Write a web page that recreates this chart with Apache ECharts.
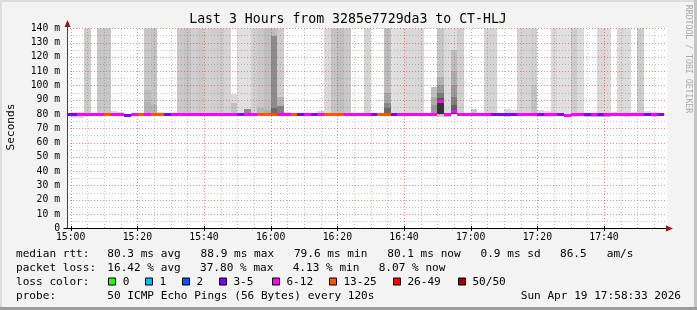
<!DOCTYPE html>
<html><head><meta charset="utf-8">
<script src="https://cdn.jsdelivr.net/npm/echarts@6/dist/echarts.min.js"></script>
<style>html,body{margin:0;padding:0;background:#f3f3f3}#c{width:697px;height:310px}</style>
</head><body><div id="c"></div>
<script>
// ---- data (minutes after 15:00 on x; milliseconds on y) ----
const xLabelValues = [0, 20, 40, 60, 80, 100, 120, 140, 160];
const xLabelTexts = ['15:00','15:20','15:40','16:00','16:20','16:40','17:00','17:20','17:40'];
const xMinorTicks = [5,10,15,25,30,35,45,50,55,65,70,75,85,90,95,105,110,115,125,130,135,145,150,155,165,170,175];
const yMajorTicks = [10,20,30,40,50,60,70,80,90,100,110,120,130,140];
const yMinorTicks = [5,15,25,35,45,55,65,75,85,95,105,115,125,135];

// one entry per 2-minute step, first entry = 14:58 step (partly visible)
const medianMs = [
  80.1,
  80.1,80.2,80.1,80.1,80.2,80.1,80.1,80.2,
  79.6,
  80.1,80.2,80.1,80.1,80.2,80.1,80.1,80.1,80.2,80.1,
  80.1,80.2,80.1,80.1,80.1,80.2,80.1,80.1,80.2,80.1,
  80.1,80.2,80.1,80.1,80.1,80.2,80.1,80.1,80.2,80.1,
  80.1,80.1,80.2,80.1,80.1,80.2,80.1,80.1,80.1,80.2,
  80.1,80.1,80.2,80.1,80.1,80.2,
  88.9,79.7,81.8,
  80.1,80.2,80.1,80.1,80.1,80.2,80.1,80.1,80.2,80.1,
  80.1,80.1,80.2,80.1,80.1,80.2,
  79.6,
  80.1,80.2,80.1,80.1,80.1,80.2,80.1,80.1,80.2,80.1,
  80.1,80.1,80.2,80.1
];
const lossPct = [
  8.1,
  8.0,16.2,15.8,16.4,16.0,30.2,16.1,15.9,8.2,16.3,29.8,16.0,30.4,30.1,8.0,16.2,
  16.1,15.8,16.4,16.0,16.2,15.9,16.1,16.3,16.0,8.1,16.2,16.0,30.0,30.3,37.8,16.1,
  16.0,30.2,8.0,16.3,8.2,16.1,30.0,29.9,30.2,16.0,16.1,15.9,16.2,8.1,30.1,30.2,8.0,
  16.1,16.0,16.3,15.9,16.2,16.0,16.4,16.1,16.2,
  16.0,16.1,15.9,16.2,16.0,8.1,8.0,8.2,8.1,16.0,16.2,16.1,8.0,16.1,16.0,8.2,16.1,
  16.0,16.2,8.1,16.0,8.2,16.1,16.0,16.2,15.9,16.1,16.0,8.1,16.2,8.07
];
// smoke bands: [step (0 = 15:00-15:02), low ms, high ms, density %]
const smokeBands = [
  [0,77.3,80.1,15],[0,80.1,81.5,12],
  [1,77.3,80.1,15],[1,80.1,81.5,12],
  [2,80.1,200,20],
  [4,80.1,200,22],[5,80.1,200,22],
  [6,80.1,82.2,14],[7,80.1,81.5,12],
  [11,80.1,200,22],[11,80.1,96.8,26],[11,80.1,88.6,30],
  [12,80.1,200,23],[12,80.1,86,29],
  [13,80.1,81.5,12],
  [16,80.1,200,21],[17,80.1,200,23],[18,80.1,200,19],[19,80.1,200,21],
  [20,80.1,200,18],[21,80.1,200,19],[22,80.1,200,20],[23,80.1,200,17],
  [24,80.1,94,15],[24,80.1,87.6,24],
  [25,80.1,200,12],
  [26,80.1,200,12],[26,80.1,83.8,45],
  [27,80.1,200,18],
  [28,80.1,200,21],[28,80.1,84,29],
  [29,80.1,200,25],[29,80.1,83,31],
  [30,80.1,200,26],[30,80.1,134.8,45],[30,80.1,84,58],
  [31,80.1,200,20],[31,80.1,92,30],[31,80.1,85.5,50],
  [32,80.1,81.4,14],
  [37,80.1,82.3,18],
  [38,80.1,200,15],[39,80.1,200,23],[40,80.1,200,25],[41,80.1,200,21],
  [44,80.1,200,17],
  [47,80.1,200,26],[47,80.1,94.5,34],[47,80.1,88,46],[47,80.1,84,58],
  [48,80.1,200,12],[49,80.1,200,13],[50,80.1,200,15],[51,80.1,200,15],[52,80.1,200,16],
  [54,80.1,99,25],[54,80.1,92,32],[54,80.1,86,40],
  [55,77.7,80.1,20],[55,80.1,200,22],[55,80.1,105.6,30],[55,80.1,100,40],[55,80.1,95,52],[55,80.1,91,66],[55,80.1,88.9,80],
  [56,79.7,200,14],[56,77.6,79.7,25],
  [57,80.1,200,13],[57,80.1,125,26],[57,80.1,110,32],[57,80.1,100,40],[57,80.1,92,50],[57,80.1,86,62],[57,80.1,83,75],
  [58,80.1,200,19],
  [60,80.1,83.3,22],
  [62,80.1,200,17],[63,80.1,200,17],
  [64,80.1,81,14],
  [65,80.1,83.2,15],[65,77.6,80.1,18],
  [66,80.1,83,14],
  [67,80.1,200,17],[68,80.1,200,17],[69,80.1,200,19],[69,80.1,100,24],
  [70,80.1,82.5,14],[70,77.6,80.1,16],
  [71,80.1,82,12],[71,77.6,80.1,16],
  [72,80.1,200,15],[73,80.1,200,12],
  [74,79.6,200,12],[74,77.6,79.6,18],
  [75,80.1,200,20],[75,78,80.1,18],
  [76,80.1,200,14],
  [77,77.6,80.1,22],[78,77.6,80.1,30],
  [79,80.1,200,15],[79,77.6,80.1,28],
  [80,80.1,200,14],[80,77.6,80.1,30],
  [81,80.1,81.5,12],
  [82,80.1,200,15],[83,80.1,200,14],[83,77.6,80.1,20],
  [84,80.1,81.5,12],
  [85,80.1,200,20],
  [86,80.1,82,12],
  [87,80.1,81.5,12],[87,78,80.1,18]
];
const lossLabels = ['0','1','2','3-5','6-12','13-25','26-49','50/50'];
const lossColors = ['#26ff00','#00b8ff','#0059ff','#7e00ff','#ff00ff','#ff5500','#ff0000','#a10000'];
const statsRtt = ['80.3 ms avg','88.9 ms max','79.6 ms min','80.1 ms now','0.9 ms sd','86.5   am/s'];
const statsLoss = ['16.42 % avg','37.80 % max','4.13 % min','8.07 % now'];

// ---- helpers ----
const FONT = '"DejaVu Sans Mono", monospace';
function lossColor(p){
  const lost = Math.round(p * 50 / 100);
  const idx = lost <= 0 ? 0 : lost <= 1 ? 1 : lost <= 2 ? 2 : lost <= 5 ? 3 : lost <= 12 ? 4 : lost <= 25 ? 5 : lost < 50 ? 6 : 7;
  return lossColors[idx];
}
function cs(params){ const c = params.coordSys; return {x:c.x, y:c.y, width:c.width, height:c.height}; }

const medianData = medianMs.map((m, i) => [i - 1, m, lossPct[i]]);
const gridData = [];
xMinorTicks.forEach(v => gridData.push([0, v, 0]));
yMinorTicks.forEach(v => gridData.push([1, v, 0]));
xLabelValues.forEach(v => gridData.push([0, v, 1]));
yMajorTicks.forEach(v => gridData.push([1, v, 1]));

const chart = echarts.init(document.getElementById('c'), null, {renderer: 'canvas'});
const option = {
  backgroundColor: '#f3f3f3',
  animation: false,
  grid: {left: 67, right: 30, top: 28.3, bottom: 81.7, show: true, backgroundColor: '#ffffff', borderWidth: 0},
  xAxis: {
    type: 'value', min: -1.1, max: 178.9,
    axisLine: {show: false}, axisTick: {show: false}, splitLine: {show: false},
    axisLabel: {
      customValues: xLabelValues,
      formatter: v => { const i = xLabelValues.indexOf(Math.round(v)); return i >= 0 ? xLabelTexts[i] : ''; },
      fontFamily: FONT, fontSize: 9.75, color: '#000', margin: 4
    }
  },
  yAxis: {
    type: 'value', min: 0, max: 140, interval: 10,
    axisLine: {show: false}, axisTick: {show: false}, splitLine: {show: false},
    axisLabel: {formatter: v => v === 0 ? '0' : v + ' m', fontFamily: FONT, fontSize: 9.75, color: '#000', margin: 7}
  },
  series: [
    {
      type: 'custom', name: 'smoke', z: 1, data: smokeBands,
      renderItem: (params, api) => {
        const k = api.value(0), lo = api.value(1), hi = api.value(2), den = api.value(3);
        const p0 = api.coord([2 * k, lo]), p1 = api.coord([2 * k + 2, hi]);
        const x0 = Math.round(p0[0]), x1 = Math.round(p1[0]);
        const y0 = Math.round(p0[1]), y1 = Math.round(p1[1]);
        const shape = echarts.graphic.clipRectByRect({x: x0, y: y1, width: x1 - x0, height: y0 - y1}, cs(params));
        if (!shape) return;
        const g = Math.round(255 * (1 - den / 100));
        return {type: 'rect', shape: shape, style: {fill: 'rgb(' + g + ',' + g + ',' + g + ')'}};
      }
    },
    {
      type: 'custom', name: 'grid', z: 2, data: gridData, silent: true,
      renderItem: (params, api) => {
        const o = api.value(0), v = api.value(1), major = api.value(2);
        const stroke = major ? 'rgba(245,60,60,0.62)' : 'rgba(90,90,90,0.34)';
        if (o === 0) {
          const a = api.coord([v, 0]), b = api.coord([v, 140]);
          const x = Math.round(a[0]) + 0.5;
          const ch = [{type: 'line', shape: {x1: x, y1: Math.round(a[1]), x2: x, y2: Math.round(b[1])}, style: {stroke: stroke, lineWidth: 1, lineDash: [1, 2]}}];
          const yb = Math.round(a[1]);
          ch.push({type: 'line', shape: {x1: x, y1: yb - (major ? 2 : 1), x2: x, y2: yb + (major ? 3 : 0)}, style: {stroke: major ? '#000' : '#888', lineWidth: 1}});
          return {type: 'group', children: ch};
        } else {
          const a = api.coord([-1.1, v]), b = api.coord([178.9, v]);
          const y = Math.round(a[1]) + 0.5;
          return {type: 'line', shape: {x1: Math.round(a[0]), y1: y, x2: Math.round(b[0]), y2: y}, style: {stroke: stroke, lineWidth: 1, lineDash: [1, 2]}};
        }
      }
    },
    {
      type: 'custom', name: 'median', z: 3, data: medianData,
      renderItem: (params, api) => {
        const k = api.value(0), m = api.value(1), l = api.value(2);
        const p0 = api.coord([2 * k, m]), p1 = api.coord([2 * k + 2, m]);
        const x0 = Math.round(p0[0]), x1 = Math.round(p1[0]);
        const y = Math.round(p0[1]) - 1;
        const shape = echarts.graphic.clipRectByRect({x: x0, y: y, width: x1 - x0, height: 3}, cs(params));
        if (!shape) return;
        return {type: 'rect', shape: shape, style: {fill: lossColor(l)}};
      }
    }
  ]
};
chart.setOption(option);

// ---- decorations: frame, axes arrows, titles, legend ----
const pOrigin = chart.convertToPixel({gridIndex: 0}, [-1.1, 0]);
const pCorner = chart.convertToPixel({gridIndex: 0}, [178.9, 140]);
const ax = Math.round(pOrigin[0]) + 0.5, ay = Math.round(pOrigin[1]) + 0.5, rx = Math.round(pCorner[0]), ty = Math.round(pCorner[1]);
const deco = [];
deco.push({type: 'rect', shape: {x: 0, y: 0, width: 697, height: 2}, style: {fill: '#dcdcdc'}});
deco.push({type: 'rect', shape: {x: 0, y: 0, width: 2, height: 310}, style: {fill: '#dcdcdc'}});
deco.push({type: 'rect', shape: {x: 694, y: 0, width: 3, height: 310}, style: {fill: '#c4c4c4'}});
deco.push({type: 'rect', shape: {x: 0, y: 307, width: 697, height: 3}, style: {fill: '#9c9c9c'}});
deco.push({type: 'line', shape: {x1: ax, y1: ay, x2: ax, y2: ty - 4}, style: {stroke: '#404040', lineWidth: 1}, z: 10});
deco.push({type: 'line', shape: {x1: ax - 4, y1: ay, x2: rx + 2, y2: ay}, style: {stroke: '#000', lineWidth: 1}, z: 10});
deco.push({type: 'polygon', shape: {points: [[ax, ty - 8], [ax - 3, ty - 1], [ax + 3, ty - 1]]}, style: {fill: '#8b1a1a'}, z: 10});
deco.push({type: 'polygon', shape: {points: [[rx + 6, ay], [rx - 1, ay - 3], [rx - 1, ay + 3]]}, style: {fill: '#8b1a1a'}, z: 10});
function txt(s, x, y, opt){
  opt = opt || {};
  return {type: 'text', x: x, y: y, rotation: opt.rot || 0, z: 10,
    style: {text: s, font: (opt.size || 11.1) + 'px ' + FONT, fill: opt.color || '#000',
      align: opt.align || 'left', verticalAlign: 'middle', textAlign: opt.align || 'left', textVerticalAlign: 'middle'}};
}
deco.push(txt('Last 3 Hours from 3285e7729da3 to CT-HLJ', 348, 19.5, {size: 13.2, align: 'center'}));
deco.push(txt('Seconds', 11, 127, {rot: Math.PI / 2, align: 'center'}));
deco.push(txt('RRDTOOL / TOBI OETIKER', 688.5, 59, {rot: -Math.PI / 2, align: 'center', size: 8.2, color: '#a8a8a8'}));
const colX = [107.3, 200.6, 293.9, 387.2, 480.5, 560];
deco.push(txt('median rtt:', 16, 254.5));
statsRtt.forEach((s, i) => deco.push(txt(s, colX[i], 254.5)));
deco.push(txt('packet loss:', 16, 268.5));
let px = 107.3;
statsLoss.forEach(s => { deco.push(txt(s, px, 268.5)); px += s.length * 6.68 + 19.2; });
deco.push(txt('loss color:', 16, 282));
const boxX = [108.3, 145.2, 182, 219, 272, 329, 393, 458];
lossLabels.forEach((s, i) => {
  deco.push({type: 'rect', shape: {x: Math.round(boxX[i]) + 0.5, y: 278, width: 7, height: 7}, style: {fill: lossColors[i], stroke: '#000', lineWidth: 1}, z: 10});
  deco.push(txt(s, boxX[i] + 14.4, 282));
});
deco.push(txt('probe:', 16, 296));
deco.push(txt('50 ICMP Echo Pings (56 Bytes) every 120s', 107.3, 296));
deco.push(txt('Sun Apr 19 17:58:33 2026', 681, 296, {align: 'right'}));
chart.setOption({graphic: deco});
</script>
</body></html>
